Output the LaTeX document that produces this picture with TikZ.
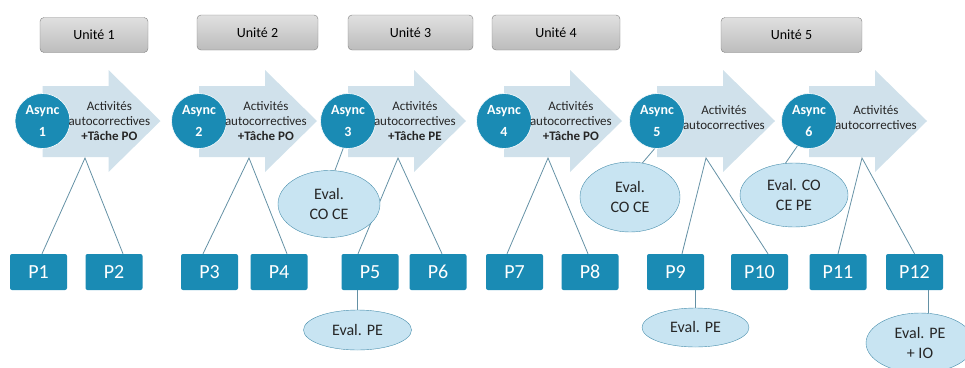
\documentclass[tikz,border=0pt]{standalone}
\usepackage{fontspec}
\setmainfont{Carlito}
\usepackage{tikz}
\usetikzlibrary{positioning, shapes.geometric}
\definecolor{seqteal}{RGB}{26, 139, 180}
\definecolor{seqarrow}{RGB}{208, 225, 235}
\definecolor{evalfill}{RGB}{200, 228, 242}
\definecolor{evaldraw}{RGB}{72, 142, 172}
\definecolor{linkgrey}{RGB}{100, 145, 165}
\definecolor{unitetop}{RGB}{224, 224, 224}
\definecolor{unitebot}{RGB}{188, 188, 188}
\definecolor{unitedraw}{RGB}{128, 128, 128}

\begin{document}
\begin{tikzpicture}[x=1pt, y=-1pt,
        unite/.style={rectangle, rounded corners=4pt, draw=unitedraw, top color=unitetop, bottom color=unitebot, minimum height=35pt, font=\fontsize{14}{16}\selectfont},
        async/.style={circle, fill=seqteal, draw=white, line width=0.6pt, text=white, minimum size=55pt, inner sep=0pt, align=center, font=\bfseries\fontsize{14}{16}\selectfont},
        activ/.style={inner sep=0pt, align=center, text=black!85, font=\fontsize{13}{15}\selectfont},
        seance/.style={rectangle, rounded corners=2pt, fill=seqteal, text=white, minimum width=57pt, minimum height=36pt, font=\fontsize{20}{24}\selectfont},
        evalbox/.style={ellipse, draw=evaldraw, fill=evalfill, inner sep=0pt, align=center, text=black!85, font=\fontsize{16}{19.5}\selectfont},
        link/.style={draw=linkgrey, line width=0.8pt}
    ]
        \useasboundingbox (0,0) rectangle (965,367);
        \clip (0,0) rectangle (965,367);
        % unités
        \node[unite, minimum width=108pt] (U1) at (94,35) {Unité 1};
        \node[unite, minimum width=121pt] (U2) at (257.5,32.5) {Unité 2};
        \node[unite, minimum width=125pt] (U3) at (410.5,32.5) {Unité 3};
        \node[unite, minimum width=128pt] (U4) at (556,32.5) {Unité 4};
        \node[unite, minimum width=141pt] (U5) at (791.5,35) {Unité 5};
        % flèches
        \foreach \c in {42.5,199,348,504,657,809}
            \fill[seqarrow] (\c,86) -- (\c+66,86) -- (\c+66,70) -- (\c+118,121) -- (\c+66,172) -- (\c+66,157) -- (\c,157) -- cycle;
        \foreach \n/\c in {1/42.5,2/199,3/348,4/504,5/657,6/809}
            \node[async] (A\n) at (\c,121) {Async\\[6pt]\n};
        \node[activ, right=-2pt of A1] (T1) {Activités\\autocorrectives\\\textbf{+Tâche PO}};
        \node[activ, right=-2pt of A2] (T2) {Activités\\autocorrectives\\\textbf{+Tâche PO}};
        \node[activ, right=-2pt of A3] (T3) {Activités\\autocorrectives\\\textbf{+Tâche PE}};
        \node[activ, right=-2pt of A4] (T4) {Activités\\autocorrectives\\\textbf{+Tâche PO}};
        \node[activ, right=-2pt of A5, yshift=3pt] (T5) {Activités\\autocorrectives};
        \node[activ, right=-2pt of A6, yshift=3pt] (T6) {Activités\\autocorrectives};
        % séances
        \foreach \n/\x in {1/38.5,2/114,3/209.5,4/279,5/370,6/438,7/514.5,8/590,9/675.5,10/759.5,11/838,12/914.5}
            \node[seance] (P\n) at (\x,272) {P\n};
        \foreach \n/\x in {1/85,2/249,3/398,4/548,5/706,6/862}
            \coordinate (t\n) at (\x,158);
        \foreach \t/\l/\dl/\r/\dr in {1/1/3.5/2/9, 2/3/-6.5/4/8, 3/5/-12/6/4, 4/7/-7.5/8/-2, 5/9/6.5/10/8.5, 6/11/0/12/0}
            \draw[link] ([xshift=\dl pt]P\l.north) -- (t\t) -- ([xshift=\dr pt]P\r.north);
        % évaluations
        \node[evalbox, minimum width=102pt, minimum height=67pt] (E3) at (329,204) {Eval.\\CO CE};
        \node[evalbox, minimum width=100pt, minimum height=70pt] (E5) at (630,197) {Eval.\\CO CE};
        \node[evalbox, minimum width=108pt, minimum height=64pt] (E6) at (794,195) {Eval. CO\\CE PE};
        \node[evalbox, minimum width=108pt, minimum height=40pt] (E5b) at (357.5,330) {Eval. PE};
        \node[evalbox, minimum width=107pt, minimum height=39pt] (E9) at (695.5,327.5) {Eval. PE};
        \node[evalbox, minimum width=108pt, minimum height=60pt] (E12) at (920,343) {Eval. PE\\+ IO};
        \draw[link] (A3.260) -- (E3.80);
        \draw[link] (A5.265) -- (E5.70);
        \draw[link] (A6.245) -- (E6.105);
        \draw[link] (E5b.north |- P5.south) -- (E5b.north);
        \draw[link] (E9.north |- P9.south) -- (E9.north);
        \coordinate (p12) at ([xshift=13.5pt]P12.south);
        \draw[link] (p12) -- (p12 |- E12.north);
    \end{tikzpicture}
\end{document}
